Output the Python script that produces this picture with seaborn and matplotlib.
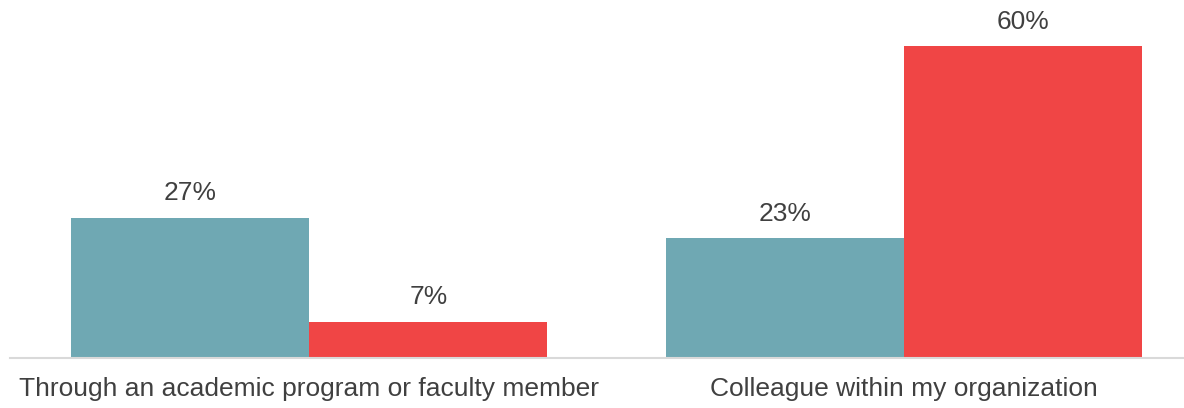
import matplotlib
matplotlib.use("Agg")
import matplotlib.pyplot as plt
import seaborn as sns
import pandas as pd

categories = ["Through an academic program or faculty member",
              "Colleague within my organization"]
series_names = ["Group 1", "Group 2"]
group1_values = [27, 23]
group2_values = [7, 60]
colors = ["#6FA8B3", "#F04545"]

df = pd.DataFrame({
    "category": categories * 2,
    "series": [series_names[0]] * 2 + [series_names[1]] * 2,
    "value": group1_values + group2_values,
})

sns.set_style("white")
plt.rcParams["font.family"] = ["Liberation Sans", "DejaVu Sans"]

fig = plt.figure(figsize=(11.84, 4.08), dpi=100)
ax = fig.add_axes([10 / 1184, 50 / 408, 1174 / 1184, 358 / 408])

sns.barplot(data=df, x="category", y="value", hue="series",
            palette=colors, width=0.8, saturation=1, legend=False,
            edgecolor="none", ax=ax)

for container in ax.containers:
    ax.bar_label(container, labels=[f"{v:.0f}%" for v in container.datavalues],
                 padding=9, fontsize=19, color="#404040")

ax.set_xlim(-0.503, 1.47)
ax.set_ylim(0, 68.85)
ax.set_xlabel("")
ax.set_ylabel("")
ax.set_yticks([])
ax.tick_params(axis="x", length=0, pad=14, labelsize=19, labelcolor="#404040")
for side in ["top", "right", "left"]:
    ax.spines[side].set_visible(False)
ax.spines["bottom"].set_color("#D9D9D9")
ax.spines["bottom"].set_linewidth(1.5)

fig.savefig("out.png", dpi=100)
